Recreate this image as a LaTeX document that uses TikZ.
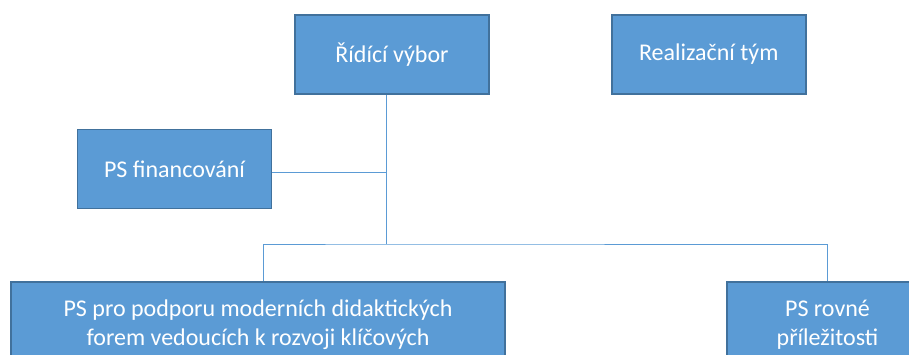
\documentclass[tikz,border=0pt]{standalone}
\usepackage{fontspec}
\setmainfont{Carlito}
\usetikzlibrary{positioning}
\definecolor{boxfill}{HTML}{5B9BD5}
\definecolor{boxline}{HTML}{41719C}

\begin{document}
\begin{tikzpicture}[x=1pt,y=1pt,line width=1pt,
  every node/.style={font=\fontsize{24}{29}\selectfont},
  unit/.style={draw=boxline,line width=1.8pt,fill=boxfill,text=white,
    minimum width=194pt,minimum height=79pt,inner sep=0pt},
  group/.style={unit,anchor=north,align=center,inner xsep=4pt,inner ysep=18pt,
    minimum height=110pt,text depth=30pt},
  link/.style={draw=boxfill}]
  \useasboundingbox (0,0) rectangle (909,354);
  \clip (0,0) rectangle (909,354);
  \node[unit] (ridici) at (392,299.5) {Řídící výbor};
  \node[unit] (tym) [right=121pt of ridici] {Realizační tým};
  \node[unit] (fin) at (174.5,185) {PS financování};
  \node[group,minimum width=494pt] (didak) at (258,73)
    {PS pro podporu moderních didaktických\\forem vedoucích k rozvoji klíčových};
  \node[group,minimum width=201pt] (rovne) at (827.5,73) {PS rovné\\příležitosti};
  \coordinate (hub) at (386,110);
  \path[link] (hub |- ridici.south) edge (hub);
  \path[link] ([yshift=-3pt]fin.east) edge ([yshift=-3pt]fin.east -| hub);
  \path[link] ([xshift=5pt]didak.north) |- (hub) -| (rovne.north);
\end{tikzpicture}
\end{document}
